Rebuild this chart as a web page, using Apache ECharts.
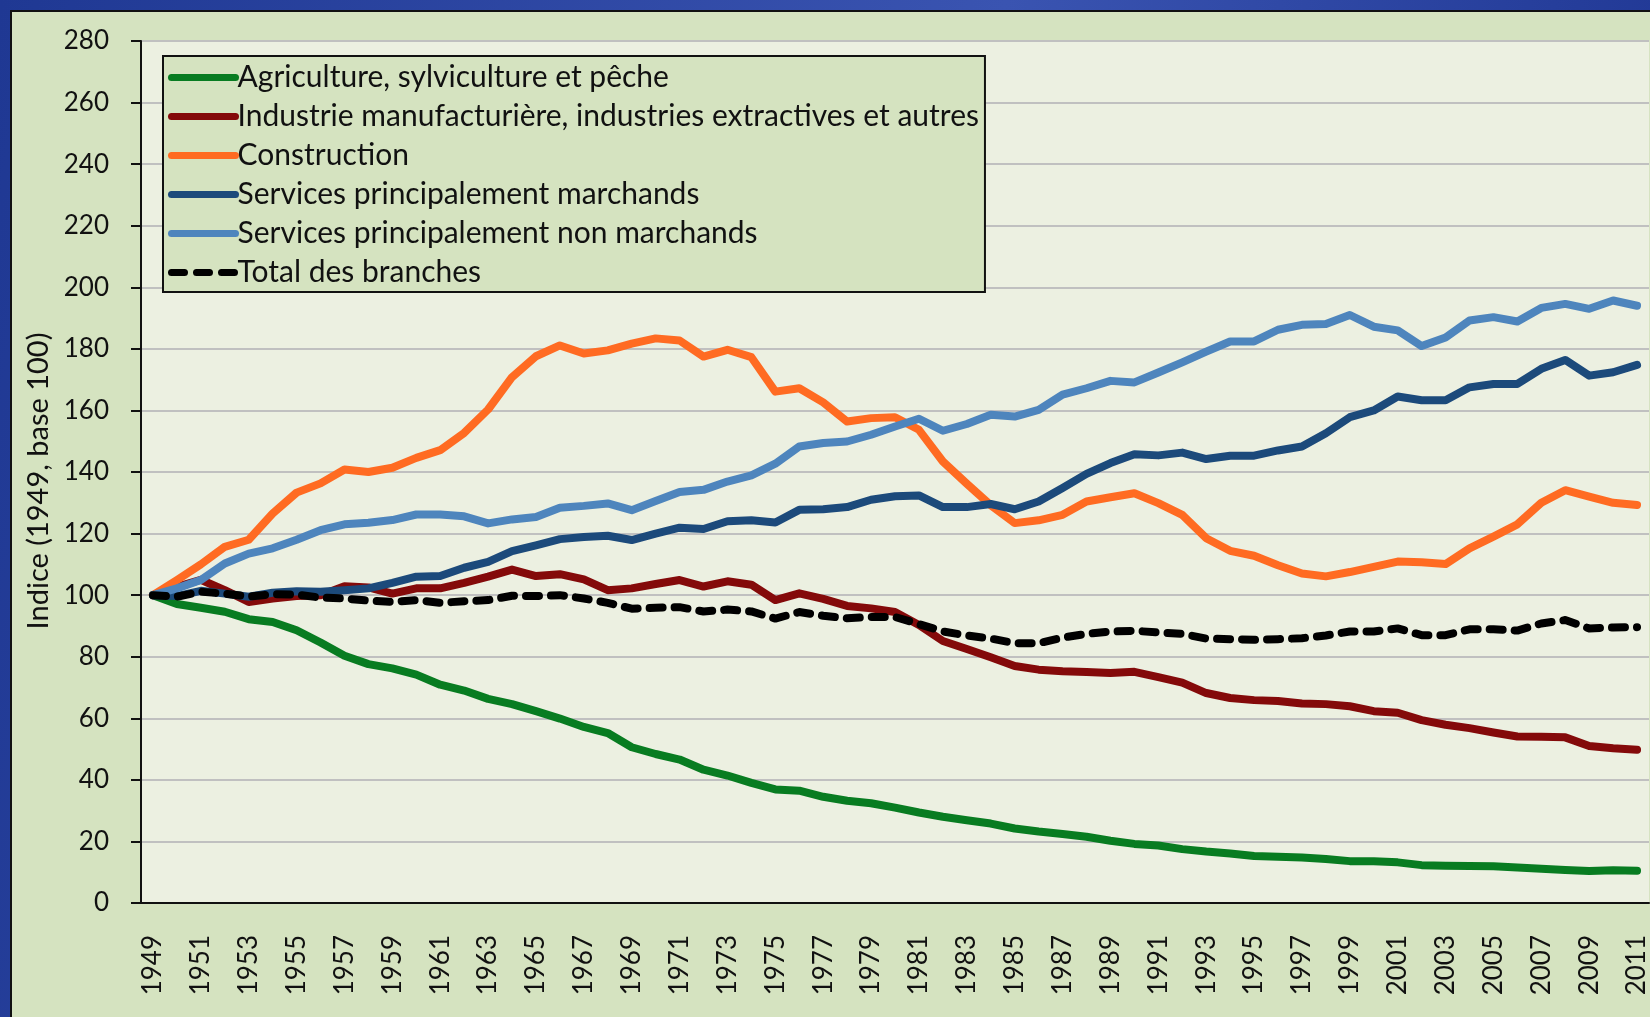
<!DOCTYPE html>
<html>
<head>
<meta charset="utf-8">
<script src="https://cdn.jsdelivr.net/npm/echarts@6/dist/echarts.min.js"></script>
<style>
  html, body { margin: 0; padding: 0; }
  body {
    width: 1650px; height: 1017px; overflow: hidden; position: relative;
    background: linear-gradient(100deg, #1f3893 0%, #3a54b1 55%, #1c3390 100%);
  }
  #frame {
    position: absolute; left: 10px; top: 10px; right: 0; bottom: 0;
    background: #d5e3c0; border-left: 2px solid #111; border-top: 2px solid #111;
  }
  #chart { position: absolute; left: 0; top: 0; width: 1650px; height: 1017px; }
</style>
</head>
<body>
<div id="frame"></div>
<div id="chart"></div>
<script>
var years = ['1949','1950','1951','1952','1953','1954','1955','1956','1957','1958',
  '1959','1960','1961','1962','1963','1964','1965','1966','1967','1968',
  '1969','1970','1971','1972','1973','1974','1975','1976','1977','1978',
  '1979','1980','1981','1982','1983','1984','1985','1986','1987','1988',
  '1989','1990','1991','1992','1993','1994','1995','1996','1997','1998',
  '1999','2000','2001','2002','2003','2004','2005','2006','2007','2008',
  '2009','2010','2011']

var agriculture = [100, 97.1, 95.9, 94.6, 92.2, 91.3, 88.6, 84.6, 80.3, 77.6,
  76.2, 74.2, 70.9, 69, 66.3, 64.6, 62.3, 59.9, 57.2, 55.2,
  50.6, 48.4, 46.6, 43.3, 41.4, 39, 36.9, 36.5, 34.5, 33.2,
  32.4, 31, 29.4, 28, 26.9, 25.8, 24.2, 23.2, 22.4, 21.5,
  20.2, 19.2, 18.7, 17.5, 16.7, 16.1, 15.3, 15, 14.8, 14.3,
  13.6, 13.6, 13.2, 12.3, 12.1, 12.0, 11.9, 11.5, 11.1, 10.7,
  10.4, 10.6, 10.5]

var industrie = [100, 102.7, 105, 101.6, 97.8, 98.9, 99.7, 100, 102.9, 102.5,
  100.5, 102.2, 102.2, 104, 106, 108.3, 106.2, 106.8, 105.1, 101.6,
  102.2, 103.6, 104.9, 102.8, 104.5, 103.4, 98.4, 100.6, 98.8, 96.5,
  95.7, 94.5, 90.3, 85.1, 82.5, 79.8, 77, 75.8, 75.3, 75,
  74.7, 75.1, 73.4, 71.6, 68.2, 66.6, 65.9, 65.6, 64.8, 64.6,
  63.9, 62.3, 61.8, 59.4, 57.9, 56.8, 55.4, 54.1, 54, 53.8,
  51, 50.3, 49.8]

var construction = [100, 104.9, 110, 115.7, 118, 126.5, 133.3, 136.3, 140.8, 140,
  141.4, 144.6, 147.1, 152.7, 160.3, 170.8, 177.6, 181.1, 178.5, 179.5,
  181.7, 183.4, 182.7, 177.5, 179.7, 177.3, 166.1, 167.2, 162.6, 156.4,
  157.5, 157.8, 153.7, 143.4, 136.2, 129.2, 123.4, 124.3, 126.1, 130.4,
  131.8, 133.1, 129.9, 126.1, 118.5, 114.4, 112.8, 109.7, 107, 106.1,
  107.5, 109.2, 110.9, 110.7, 110.1, 115.2, 119, 123, 130, 134.1,
  132, 130, 129.3]

var servicesMarchands = [100, 99.7, 101.4, 100.5, 99.5, 100.8, 101.3, 101.1, 101.6, 102.2,
  104, 106, 106.2, 108.9, 110.8, 114.3, 116.2, 118.2, 118.9, 119.3,
  117.9, 120, 121.9, 121.5, 124, 124.3, 123.6, 127.7, 127.9, 128.6,
  131, 132.1, 132.4, 128.6, 128.6, 129.6, 127.9, 130.4, 134.8, 139.4,
  142.9, 145.8, 145.4, 146.3, 144.2, 145.3, 145.3, 147, 148.3, 152.6,
  157.8, 160, 164.5, 163.3, 163.3, 167.5, 168.6, 168.6, 173.5, 176.4,
  171.3, 172.4, 174.8]

var servicesNonMarchands = [100, 102.2, 104.9, 110.3, 113.5, 115.2, 118, 121.1, 123, 123.5,
  124.4, 126.2, 126.2, 125.6, 123.3, 124.6, 125.4, 128.4, 129, 129.8,
  127.6, 130.6, 133.5, 134.2, 136.9, 138.9, 142.7, 148.3, 149.4, 149.9,
  152.1, 154.8, 157.3, 153.4, 155.6, 158.6, 158, 160.2, 165.1, 167.2,
  169.6, 169.1, 172.3, 175.6, 179.1, 182.4, 182.4, 186.2, 187.8, 188.1,
  191, 187.2, 186, 180.9, 183.7, 189.2, 190.3, 188.9, 193.3, 194.6,
  193, 195.7, 194]

var total = [100, 99.5, 101.1, 100.5, 99.5, 100.3, 100.2, 99.2, 98.9, 98.2,
  97.8, 98.4, 97.5, 98, 98.4, 99.8, 99.7, 100, 98.9, 97.5,
  95.6, 95.9, 96.1, 94.7, 95.3, 94.7, 92.4, 94.5, 93.3, 92.5,
  92.9, 92.9, 90.6, 88.2, 86.9, 85.9, 84.4, 84.4, 86.2, 87.4,
  88.2, 88.4, 87.9, 87.4, 85.9, 85.7, 85.5, 85.7, 86, 86.9,
  88.2, 88.2, 89.2, 87, 87, 88.9, 88.9, 88.5, 90.8, 91.9,
  89.2, 89.5, 89.6]

var FONT = 'Lato'

var chart = echarts.init(document.getElementById('chart'))

function lineSeries(name, data, color, dashed) {
  return {
    name: name,
    type: 'line',
    data: data,
    symbol: 'none',
    smooth: false,
    lineStyle: {
      color: color,
      width: 8,
      cap: 'round',
      join: 'round',
      type: dashed ? [13, 12] : 'solid'
    },
    itemStyle: { color: color }
  }
}

var option = {
  animation: false,
  backgroundColor: 'transparent',
  textStyle: { fontFamily: FONT },
  grid: {
    left: 141, top: 41, right: -6, bottom: 114,
    show: true, backgroundColor: '#ecf0e1', borderWidth: 0
  },
  legend: {
    orient: 'vertical',
    left: 163, top: 56,
    padding: [2, 6, 0, 5],
    itemGap: 0,
    itemWidth: 64,
    itemHeight: 12,
    backgroundColor: '#d5e3c0',
    borderColor: '#111',
    borderWidth: 2,
    borderRadius: 0,
    itemStyle: { color: 'transparent', borderColor: 'transparent', borderWidth: 0 },
    lineStyle: { width: 7, cap: 'round' },
    textStyle: { fontFamily: FONT, fontSize: 30, color: '#111', lineHeight: 34, padding: [5, 0, 0, -3] }
  },
  xAxis: {
    type: 'category',
    data: years,
    boundaryGap: true,
    axisLine: { lineStyle: { color: '#111', width: 2 } },
    axisTick: { interval: 0, length: 10, lineStyle: { color: '#111', width: 2 } },
    axisLabel: { interval: 1, rotate: 90, margin: 32, fontSize: 26, color: '#111', fontFamily: FONT },
    splitLine: { show: false }
  },
  yAxis: {
    type: 'value',
    min: 0, max: 280, interval: 20,
    name: 'Indice (1949, base 100)',
    nameLocation: 'middle',
    nameGap: 88,
    nameTextStyle: { fontSize: 29, color: '#111', fontFamily: FONT, padding: [0, 18, 0, 0] },
    axisLine: { show: true, lineStyle: { color: '#111', width: 2 } },
    axisTick: { show: true, length: 10, lineStyle: { color: '#111', width: 2 } },
    axisLabel: { margin: 32, fontSize: 26, color: '#111', fontFamily: FONT },
    splitLine: { lineStyle: { color: '#c0c0c0', width: 2 } }
  },
  series: [
    lineSeries('Agriculture, sylviculture et pêche', agriculture, '#087c21'),
    lineSeries('Industrie manufacturière, industries extractives et autres', industrie, '#840a0a'),
    lineSeries('Construction', construction, '#ff6b22'),
    lineSeries('Services principalement marchands', servicesMarchands, '#1c4a7b'),
    lineSeries('Services principalement non marchands', servicesNonMarchands, '#4e85bd'),
    lineSeries('Total des branches', total, '#000000', true)
  ]
}

chart.setOption(option)
</script>
</body>
</html>
